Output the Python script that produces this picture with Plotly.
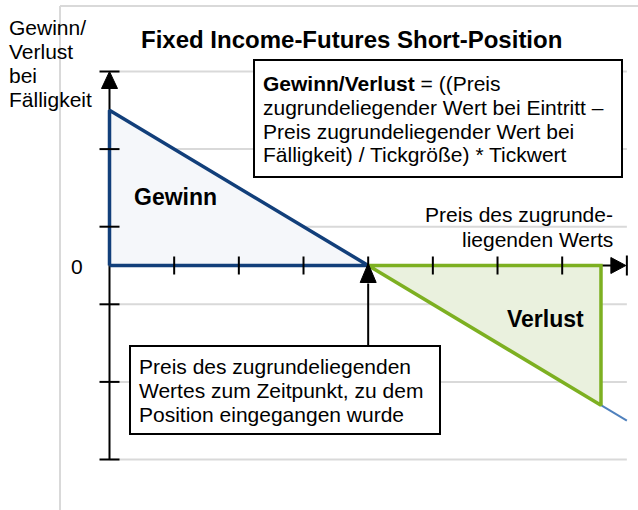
import plotly.graph_objects as go

# ---- payoff data (price in tick units, P/L in value units) ----
entry_price = 4
payoff_x = [0, 8]                 # full short-position payoff line
payoff_y = [2, -2]
gain_x = [0, 0, 4, 0]             # profit area (price below entry)
gain_y = [0, 2, 0, 0]
loss_x = [4, 7.6, 7.6, 4]         # loss area (price above entry)
loss_y = [0, 0, -1.8, 0]
price_ticks = [1, 2, 3, 4, 5, 6, 7]
pl_grid = [2.5, 1.5, 0.5, -0.5, -1.5, -2.5]
x_axis_end = 8

W, H = 638, 510
X0, UX = 109.5, 64.67      # pixel position of price 0, pixels per price unit
Y0, UY = 265.5, 77.6       # pixel position of P/L 0, pixels per P/L unit


def dx(px):
    return (px - X0) / UX


def dy(py):
    return (Y0 - py) / UY


def xp(x):
    return X0 + UX * x


def yp(y):
    return Y0 - UY * y


FONT = "Arial, Liberation Sans, Helvetica, sans-serif"
NAVY = "#123f7a"
GREEN = "#7db021"
LIGHTBLUE = "#4f81bd"
GRID = "#d9d9d9"

fig = go.Figure()

fig.add_trace(go.Scatter(x=payoff_x, y=payoff_y, mode="lines",
                         line=dict(color=LIGHTBLUE, width=2),
                         hoverinfo="skip", showlegend=False))
fig.add_trace(go.Scatter(x=gain_x, y=gain_y, mode="lines", fill="toself",
                         fillcolor="#f5f7fa",
                         line=dict(color=NAVY, width=3.5),
                         hoverinfo="skip", showlegend=False))
fig.add_trace(go.Scatter(x=loss_x, y=loss_y, mode="lines", fill="toself",
                         fillcolor="#eaf1de",
                         line=dict(color=GREEN, width=3.5),
                         hoverinfo="skip", showlegend=False))

shapes = []

# outer chart-area frame
shapes.append(dict(type="line", xref="x", yref="y", x0=dx(60), x1=dx(W + 5),
                   y0=dy(6), y1=dy(6), line=dict(color=GRID, width=2), layer="below"))
shapes.append(dict(type="line", xref="x", yref="y", x0=dx(60), x1=dx(60),
                   y0=dy(6), y1=dy(H + 5), line=dict(color=GRID, width=2), layer="below"))

# horizontal gridlines
for g in pl_grid:
    shapes.append(dict(type="line", xref="x", yref="y", x0=0, x1=x_axis_end,
                       y0=g, y1=g, line=dict(color=GRID, width=2), layer="below"))

# vertical P/L axis with arrow at the top
top = max(pl_grid)
bottom = min(pl_grid)
shapes.append(dict(type="line", xref="x", yref="y", x0=0, x1=0,
                   y0=bottom, y1=dy(yp(top) + 16),
                   line=dict(color="black", width=2), layer="below"))
shapes.append(dict(type="path", xref="x", yref="y",
                   path=f"M {dx(X0 - 8)},{dy(yp(top) + 17)} L {dx(X0 + 8)},{dy(yp(top) + 17)} "
                        f"L 0,{top} Z",
                   fillcolor="black", line=dict(color="black", width=1), layer="above"))

# horizontal price axis with arrow and end bar on the right
end_px = xp(x_axis_end)
shapes.append(dict(type="line", xref="x", yref="y", x0=0, x1=dx(end_px - 15),
                   y0=0, y1=0, line=dict(color="black", width=2), layer="below"))
shapes.append(dict(type="path", xref="x", yref="y",
                   path=f"M {dx(end_px - 16)},{dy(Y0 - 8)} L {dx(end_px - 16)},{dy(Y0 + 8)} "
                        f"L {dx(end_px - 1)},0 Z",
                   fillcolor="black", line=dict(color="black", width=1), layer="above"))
shapes.append(dict(type="line", xref="x", yref="y", x0=x_axis_end, x1=x_axis_end,
                   y0=dy(Y0 - 10), y1=dy(Y0 + 10),
                   line=dict(color="black", width=2), layer="above"))

# tick marks
for g in pl_grid:
    shapes.append(dict(type="line", xref="x", yref="y", x0=dx(X0 - 10), x1=dx(X0 + 10),
                       y0=g, y1=g, line=dict(color="black", width=2), layer="above"))
for t in price_ticks:
    shapes.append(dict(type="line", xref="x", yref="y", x0=t, x1=t,
                       y0=dy(Y0 - 9), y1=dy(Y0 + 9),
                       line=dict(color="black", width=2), layer="above"))

# pointer from the explanation box up to the entry price
box2 = (130, 346, 440, 434)
ex = xp(entry_price)
shapes.append(dict(type="line", xref="x", yref="y", x0=entry_price, x1=entry_price,
                   y0=dy(box2[1]), y1=dy(Y0 + 18),
                   line=dict(color="black", width=2), layer="above"))
shapes.append(dict(type="path", xref="x", yref="y",
                   path=f"M {dx(ex - 8)},{dy(Y0 + 17)} L {dx(ex + 8)},{dy(Y0 + 17)} "
                        f"L {entry_price},{dy(Y0 - 2)} Z",
                   fillcolor="black", line=dict(color="black", width=1), layer="above"))

# text boxes
box1 = (254, 60, 622, 177)
for (l, t, r, b) in (box1, box2):
    shapes.append(dict(type="rect", xref="x", yref="y", x0=dx(l), x1=dx(r),
                       y0=dy(t), y1=dy(b), fillcolor="white",
                       line=dict(color="black", width=2), layer="above"))

annotations = []


def label(text, px, baseline, size=21, bold=False, anchor="left"):
    if bold:
        text = f"<b>{text}</b>"
    annotations.append(dict(text=text, xref="x", yref="y", x=dx(px),
                            y=dy(baseline - 0.35 * size), xanchor=anchor,
                            yanchor="middle", showarrow=False, borderpad=0,
                            borderwidth=0,
                            font=dict(family=FONT, size=size, color="black")))


label("Fixed Income-Futures Short-Position", 351, 48, size=24, bold=True, anchor="center")

for txt, bl in zip(["Gewinn/", "Verlust", "bei", "Fälligkeit"], [35, 59, 83, 107]):
    label(txt, 9, bl)

label("0", 77, 274, anchor="center")

formula_lines = ["<b>Gewinn/Verlust</b> = ((Preis",
                 "zugrundeliegender Wert bei Eintritt –",
                 "Preis zugrundeliegender Wert bei",
                 "Fälligkeit) / Tickgröße) * Tickwert"]
for txt, bl in zip(formula_lines, [90.5, 114.5, 138.5, 162]):
    label(txt, 263, bl)

entry_lines = ["Preis des zugrundeliegenden",
               "Wertes zum Zeitpunkt, zu dem",
               "Position eingegangen wurde"]
for txt, bl in zip(entry_lines, [374, 398, 422]):
    label(txt, 139, bl)

label("Preis des zugrunde-", 613, 222, anchor="right")
label("liegenden Werts", 613, 247, anchor="right")

label("Gewinn", 175, 205, size=23, bold=True, anchor="center")
label("Verlust", 545, 327, size=23, bold=True, anchor="center")

fig.update_layout(
    width=W, height=H,
    margin=dict(l=0, r=0, t=0, b=0),
    paper_bgcolor="white", plot_bgcolor="white",
    xaxis=dict(range=[dx(0), dx(W)], visible=False, fixedrange=True),
    yaxis=dict(range=[dy(H), dy(0)], visible=False, fixedrange=True),
    shapes=shapes, annotations=annotations, showlegend=False,
)

fig.write_html("out.html")
